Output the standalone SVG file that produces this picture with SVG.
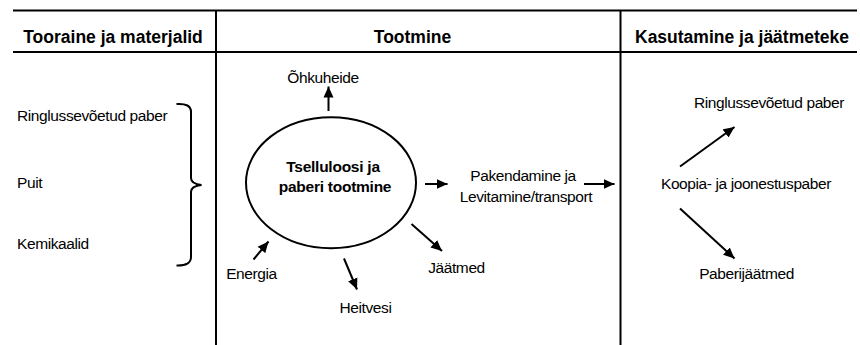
<svg xmlns="http://www.w3.org/2000/svg" width="860" height="345" viewBox="0 0 860 345">
<defs>
<style>
.frame{stroke:#000;stroke-width:2;fill:none}
.hdr{font-family:"Liberation Sans",Arial,sans-serif;font-weight:bold;font-size:17.5px;fill:#000;text-anchor:middle}
.t{font-family:"Liberation Sans",Arial,sans-serif;font-size:15.5px;letter-spacing:-0.4px;fill:#000}
.c{text-anchor:middle}
.b{font-family:"Liberation Sans",Arial,sans-serif;font-weight:bold;font-size:15.5px;letter-spacing:-0.25px;fill:#000;text-anchor:middle}
.arr{stroke:#000;stroke-width:2;fill:none;marker-end:url(#ah)}
</style>
<marker id="ah" markerUnits="userSpaceOnUse" markerWidth="12" markerHeight="11" refX="11" refY="5.5" orient="auto">
<path d="M0,0.5 L11,5.5 L0,10.5 z" fill="#000"/>
</marker>
</defs>
<rect width="860" height="345" fill="#fff"/>
<g id="frame">
<line class="frame" x1="13" y1="10.5" x2="857" y2="10.5"/>
<line class="frame" x1="13" y1="52" x2="857" y2="52"/>
<line class="frame" x1="216" y1="10" x2="216" y2="345"/>
<line class="frame" x1="620.5" y1="10" x2="620.5" y2="345"/>
<text class="hdr" x="113" y="42.5">Tooraine ja materjalid</text>
<text class="hdr" x="412.5" y="42.5">Tootmine</text>
<text class="hdr" x="742" y="42.5">Kasutamine ja jäätmeteke</text>
</g>
<g id="inputs">
<text class="t" x="17" y="121">Ringlussevõetud paber</text>
<text class="t" x="17" y="188">Puit</text>
<text class="t" x="17" y="249">Kemikaalid</text>
<path class="frame" d="M176.5,104 Q191,103 191,112 L191,178 Q191,184 201.5,185 Q191,186 191,192 L191,257 Q191,266 176.5,265.5"/>
</g>
<g id="production">
<ellipse cx="331" cy="182.7" rx="85" ry="65.5" fill="none" stroke="#000" stroke-width="2"/>
<text class="b" x="333" y="172">Tselluloosi ja</text>
<text class="b" x="335" y="192">paberi tootmine</text>
</g>
<g id="ohkuheide"><text class="t c" x="323" y="82.5">Õhkuheide</text></g>
<g id="energia"><text class="t c" x="251.5" y="279">Energia</text></g>
<g id="heitvesi"><text class="t c" x="365.5" y="312.5">Heitvesi</text></g>
<g id="jaatmed"><text class="t c" x="456.5" y="273">Jäätmed</text></g>
<g id="pakendamine">
<text class="t c" x="523" y="181">Pakendamine ja</text>
<text class="t c" x="526" y="201.5">Levitamine/transport</text>
</g>
<g id="ringlus2"><text class="t c" x="769" y="107.5">Ringlussevõetud paber</text></g>
<g id="koopia"><text class="t c" x="746" y="188.5">Koopia- ja joonestuspaber</text></g>
<g id="paberijaatmed"><text class="t c" x="746.5" y="278.5">Paberijäätmed</text></g>
<g id="connectors">
<line class="arr" x1="328.5" y1="111" x2="328.5" y2="86.5"/>
<line class="arr" x1="425" y1="184" x2="447.5" y2="184"/>
<line class="arr" x1="584" y1="184" x2="614.5" y2="184"/>
<line class="arr" x1="344" y1="258.5" x2="357" y2="289.5"/>
<line class="arr" x1="253.5" y1="259.5" x2="268.5" y2="241.5"/>
<line class="arr" x1="411.5" y1="224" x2="442" y2="251"/>
<line class="arr" x1="680" y1="166.5" x2="734.5" y2="127"/>
<line class="arr" x1="680" y1="208.5" x2="734.5" y2="258.5"/>
</g>
</svg>
